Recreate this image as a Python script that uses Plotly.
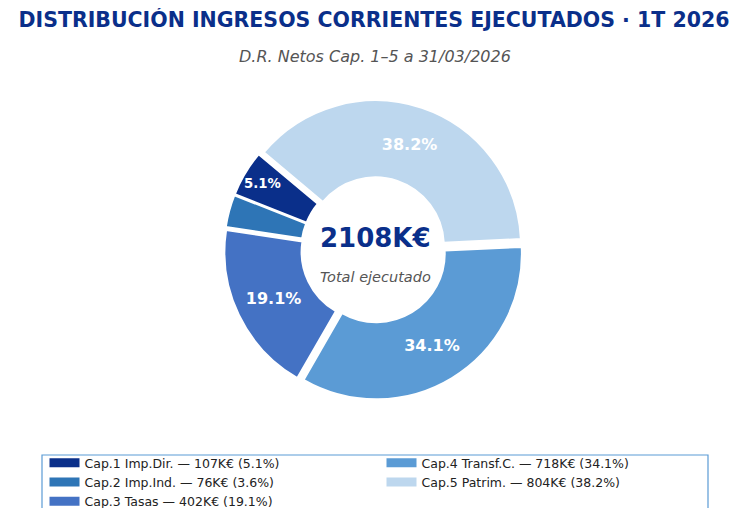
import plotly.graph_objects as go

# Ingresos corrientes ejecutados, 1T 2026 (K€)
capitulos = ["Cap.1 Imp.Dir.", "Cap.2 Imp.Ind.", "Cap.3 Tasas", "Cap.4 Transf.C.", "Cap.5 Patrim."]
importes = [107, 76, 402, 718, 804]
porcentajes = [5.1, 3.6, 19.1, 34.1, 38.2]
total = 2108
colores = ["#0a2f8a", "#2e75b6", "#4472c4", "#5b9bd5", "#bdd7ee"]

FONT = "DejaVu Sans"
NAVY = "#0a2f8a"

# the page has an 8px body margin, so the figure is 8px smaller and
# positions below are given in page pixels and converted here
W, H, OFF = 734, 500, 8


def px(x):
    return (x - OFF) / W


def py(y):
    return 1 - (y - OFF) / H


# label only the slices big enough to hold text
etiquetas = [f"{p:.1f}%" if p >= 5 else "" for p in porcentajes]

fig = go.Figure()

fig.add_trace(
    go.Pie(
        labels=capitulos,
        values=porcentajes,
        text=etiquetas,
        textinfo="text",
        textposition="inside",
        insidetextorientation="horizontal",
        textfont=dict(family=FONT, size=16, color="white", weight="bold"),
        hole=0.47,
        sort=False,
        direction="counterclockwise",
        rotation=-68.4,
        pull=0.03,
        marker=dict(colors=colores, line=dict(color="white", width=2)),
        domain=dict(x=[px(374) - 0.45, px(374) + 0.45], y=[py(400), py(100)]),
        showlegend=False,
    )
)

# legend entries: two columns, filled top to bottom
for i, (cap, imp, pct, col) in enumerate(zip(capitulos, importes, porcentajes, colores)):
    fig.add_trace(
        go.Scatter(
            x=[None], y=[None], mode="lines",
            line=dict(color=col, width=9),
            name=f"{cap} — {imp}K€ ({pct:.1f}%)",
            legend="legend" if i < 3 else "legend2",
        )
    )

leg = dict(
    yanchor="top", y=py(448), xanchor="left",
    bgcolor="rgba(0,0,0,0)", borderwidth=0,
    font=dict(family=FONT, size=12.5, color="#222"),
    tracegroupgap=0, itemwidth=30,
)

fig.update_layout(
    width=W, height=H,
    margin=dict(l=0, r=0, t=0, b=0, autoexpand=False),
    paper_bgcolor="white", plot_bgcolor="white",
    font=dict(family=FONT),
    xaxis=dict(visible=False), yaxis=dict(visible=False),
    legend={**leg, "x": px(44.5)},
    legend2={**leg, "x": px(381.5)},
    title=dict(
        text="DISTRIBUCIÓN INGRESOS CORRIENTES EJECUTADOS · 1T 2026",
        x=px(374), xanchor="center", y=py(20), yanchor="middle",
        font=dict(family=FONT, size=20.5, color=NAVY, weight="bold"),
    ),
    shapes=[
        dict(type="rect", xref="paper", yref="paper",
             x0=px(42), x1=px(708), y0=-0.05, y1=py(455),
             line=dict(color="#5b9bd5", width=1.2), fillcolor="white", layer="below"),
    ],
    annotations=[
        dict(text="<i>D.R. Netos Cap. 1–5 a 31/03/2026</i>", x=px(375), y=py(45),
             xref="paper", yref="paper", showarrow=False,
             font=dict(family=FONT, size=16, color="#555")),
        dict(text=f"<b>{total}K€</b>", x=px(375), y=py(238),
             xref="paper", yref="paper", showarrow=False,
             font=dict(family=FONT, size=26, color=NAVY)),
        dict(text="<i>Total ejecutado</i>", x=px(375), y=py(277),
             xref="paper", yref="paper", showarrow=False,
             font=dict(family=FONT, size=14.5, color="#555")),
    ],
)

fig.write_html("out.html")
